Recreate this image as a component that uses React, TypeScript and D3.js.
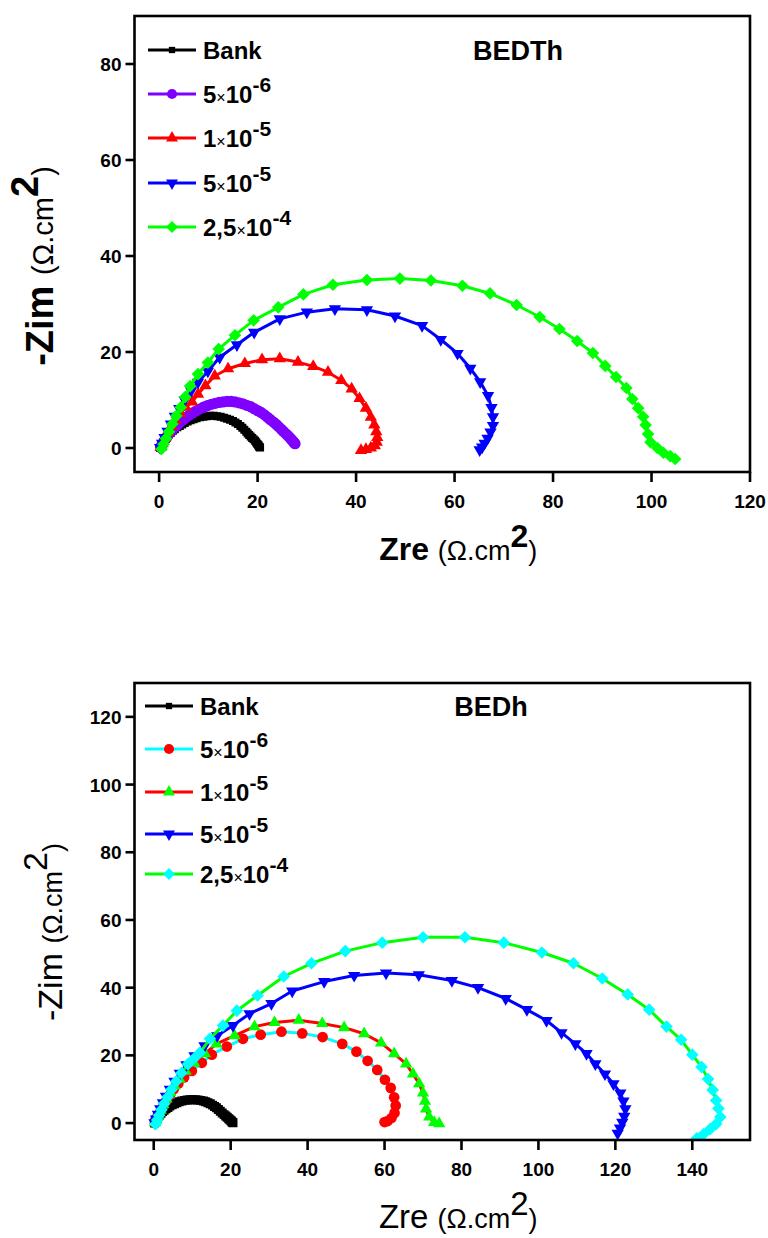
import React from 'react';
import * as d3 from 'd3';

type Pt = [number, number];

// ---- BEDTh (top panel), Zre / -Zim in ohm.cm2 ----
const bankTh: Pt[] = [
  [0.2, 0.0], [0.4, 0.4], [0.6, 0.8], [0.8, 1.2], [1.1, 1.6], [1.4, 2.0], [1.7, 2.4], [2.0, 2.8],
  [2.4, 3.2], [2.8, 3.6], [3.2, 3.9], [3.7, 4.3], [4.2, 4.6], [4.7, 4.9], [5.2, 5.2], [5.8, 5.5],
  [6.4, 5.8], [7.0, 6.0], [7.6, 6.2], [8.3, 6.4], [9.0, 6.5], [9.7, 6.6], [10.4, 6.7], [11.1, 6.7],
  [11.8, 6.6], [12.5, 6.5], [13.2, 6.3], [13.8, 6.1], [14.4, 5.9], [15.0, 5.6], [15.5, 5.3], [16.0, 5.0],
  [16.5, 4.6], [16.9, 4.2], [17.3, 3.8], [17.7, 3.4], [18.0, 3.0], [18.3, 2.7], [18.6, 2.4], [18.9, 2.1],
  [19.2, 1.8], [19.5, 1.5], [19.7, 1.2], [19.9, 0.9], [20.1, 0.7], [20.2, 0.5], [20.3, 0.3], [20.4, 0.2], [20.5, 0.1],
];
const th5e6: Pt[] = [
  [0.3, 0.1], [0.5, 0.5], [0.7, 0.9], [1.0, 1.4], [1.3, 1.9], [1.6, 2.4], [2.0, 2.9], [2.4, 3.4],
  [2.8, 3.9], [3.3, 4.4], [3.8, 4.9], [4.3, 5.4], [4.9, 5.9], [5.5, 6.4], [6.1, 6.8], [6.8, 7.3],
  [7.5, 7.7], [8.2, 8.1], [9.0, 8.5], [9.8, 8.8], [10.6, 9.1], [11.4, 9.3], [12.2, 9.5], [13.0, 9.6],
  [13.8, 9.7], [14.6, 9.7], [15.4, 9.6], [16.2, 9.4], [17.0, 9.2], [17.8, 8.9], [18.6, 8.6], [19.3, 8.2],
  [20.0, 7.8], [20.7, 7.4], [21.4, 6.9], [22.0, 6.4], [22.6, 5.9], [23.2, 5.4], [23.8, 4.9], [24.3, 4.4],
  [24.8, 3.9], [25.3, 3.4], [25.8, 2.9], [26.2, 2.5], [26.6, 2.1], [26.9, 1.7], [27.2, 1.4], [27.4, 1.1], [27.6, 0.9],
];
const th1e5: Pt[] = [
  [0.3, 0.1], [0.7, 0.9], [1.2, 2.0], [1.8, 3.2], [2.5, 4.5], [3.3, 5.8], [4.3, 7.2], [5.4, 8.5],
  [6.7, 9.6], [7.9, 11.2], [9.4, 13.0], [11.3, 15.0], [14.0, 16.5], [17.4, 17.6], [20.9, 18.4], [24.5, 18.6],
  [28.2, 17.9], [31.3, 17.0], [34.3, 15.8], [37.0, 14.1], [39.1, 12.3], [40.7, 10.3], [42.0, 8.3], [43.0, 6.4],
  [43.7, 4.8], [44.1, 3.4], [44.3, 2.2], [44.2, 1.2], [43.8, 0.5], [43.0, 0.0], [42.0, -0.3], [41.0, -0.5],
];
const th5e5: Pt[] = [
  [0.2, 0.1], [0.6, 1.0], [1.1, 2.2], [1.7, 3.5], [2.4, 5.0], [3.2, 6.6], [4.1, 8.2], [5.2, 10.0],
  [6.5, 11.9], [7.9, 13.7], [9.9, 16.0], [12.3, 18.9], [15.8, 21.5], [19.3, 24.1], [24.5, 26.9], [30.0, 28.3],
  [35.7, 29.0], [42.2, 28.8], [47.9, 27.5], [53.4, 25.5], [57.2, 22.6], [60.6, 19.7], [63.2, 16.6], [65.2, 13.8],
  [66.8, 10.9], [67.5, 8.4], [67.8, 6.5], [67.8, 4.7], [67.3, 3.3], [66.7, 2.0], [66.1, 1.0], [65.6, 0.2], [65.1, -0.4],
];
const th25e4: Pt[] = [
  [0.5, -0.2], [0.9, 0.8], [1.4, 2.0], [2.0, 3.4], [2.7, 5.0], [3.5, 6.7], [4.4, 8.5], [5.3, 10.6],
  [6.3, 12.9], [7.9, 15.4], [9.9, 17.8], [12.1, 20.6], [15.4, 23.5], [19.2, 26.6], [24.2, 29.3], [29.3, 32.0],
  [35.3, 34.0], [42.2, 35.0], [48.9, 35.3], [55.2, 34.9], [61.6, 33.8], [67.2, 32.2], [72.6, 29.8], [77.3, 27.3],
  [81.3, 24.8], [84.9, 22.3], [88.1, 19.8], [90.6, 17.1], [92.8, 14.8], [94.9, 12.5], [96.1, 10.2], [97.3, 8.3],
  [98.3, 6.5], [98.8, 4.8], [99.3, 2.9], [99.8, 1.2], [101.2, 0.0], [102.4, -1.0], [103.8, -1.7], [104.8, -2.3],
];

// ---- BEDh (bottom panel) ----
const bankH: Pt[] = [
  [0.2, 0.0], [0.4, 0.4], [0.6, 0.9], [0.9, 1.4], [1.2, 1.9], [1.5, 2.4], [1.9, 2.9], [2.3, 3.4],
  [2.7, 3.8], [3.2, 4.2], [3.7, 4.6], [4.2, 5.0], [4.8, 5.4], [5.4, 5.7], [6.0, 6.0], [6.6, 6.3],
  [7.3, 6.5], [8.0, 6.7], [8.7, 6.8], [9.4, 6.9], [10.1, 6.9], [10.8, 6.9], [11.5, 6.8], [12.2, 6.7],
  [12.9, 6.5], [13.5, 6.3], [14.1, 6.0], [14.7, 5.7], [15.3, 5.3], [15.8, 4.9], [16.3, 4.5], [16.8, 4.0],
  [17.3, 3.5], [17.8, 3.0], [18.3, 2.5], [18.7, 2.1], [19.1, 1.7], [19.5, 1.3], [19.8, 1.0], [20.1, 0.7],
  [20.3, 0.4], [20.5, 0.2], [20.6, 0.1],
];
const h5e6: Pt[] = [
  [0.3, 0.1], [0.7, 1.0], [1.2, 2.2], [1.8, 3.6], [2.5, 5.1], [3.3, 6.7], [4.2, 8.3], [5.2, 10.0],
  [6.4, 11.7], [7.9, 13.5], [9.9, 15.4], [12.5, 17.8], [15.1, 20.2], [19.0, 22.6], [23.2, 24.9], [27.8, 26.1],
  [33.2, 27.0], [38.6, 26.5], [43.9, 25.4], [49.0, 23.4], [52.7, 21.1], [55.6, 18.4], [58.1, 15.7], [60.1, 12.8],
  [61.6, 10.4], [62.5, 7.6], [62.9, 5.2], [62.6, 3.0], [61.8, 1.5], [60.8, 0.6], [60.0, 0.3],
];
const h1e5: Pt[] = [
  [0.3, 0.1], [0.7, 1.0], [1.2, 2.3], [1.8, 3.8], [2.5, 5.4], [3.3, 7.1], [4.3, 9.0], [5.4, 11.0],
  [6.7, 13.0], [8.3, 15.3], [10.5, 17.8], [13.3, 20.5], [16.3, 23.4], [21.0, 25.8], [26.2, 28.5], [31.4, 29.7],
  [37.7, 30.4], [43.8, 29.4], [49.5, 28.2], [54.7, 26.4], [59.1, 23.7], [62.5, 20.5], [65.6, 17.5], [67.4, 14.5],
  [69.0, 11.6], [70.0, 8.9], [70.5, 6.5], [70.8, 4.2], [71.6, 1.8], [72.9, 0.2], [74.2, -0.2],
];
const h5e5: Pt[] = [
  [0.2, 0.1], [0.6, 1.2], [1.1, 2.6], [1.7, 4.2], [2.4, 6.0], [3.2, 7.9], [4.2, 10.0], [5.4, 12.3],
  [6.8, 14.7], [8.5, 17.2], [10.6, 19.9], [13.2, 22.8], [16.5, 25.8], [20.6, 28.8], [24.9, 32.3], [30.6, 35.3],
  [36.0, 39.0], [44.3, 41.8], [52.1, 43.6], [60.4, 44.3], [68.9, 43.8], [77.5, 42.1], [84.3, 40.0], [91.5, 36.8],
  [97.0, 33.5], [102.1, 30.3], [106.0, 26.7], [109.6, 23.4], [112.5, 20.5], [114.8, 17.5], [117.3, 14.5], [119.5, 11.6],
  [121.3, 8.9], [122.1, 6.5], [122.6, 4.2], [122.3, 2.0], [121.8, 0.2], [121.2, -1.5], [120.6, -3.0],
];
const h25e4: Pt[] = [
  [0.5, -0.3], [0.9, 0.9], [1.4, 2.3], [2.0, 3.9], [2.7, 5.7], [3.6, 7.7], [4.6, 9.9], [5.8, 12.3],
  [7.2, 14.8], [8.9, 17.4], [10.4, 19.0], [12.0, 20.8], [14.6, 24.9], [18.0, 28.8], [21.6, 33.2], [27.0, 37.7],
  [33.8, 43.3], [41.0, 47.2], [49.8, 50.8], [59.4, 53.3], [70.0, 54.9], [80.9, 54.9], [91.0, 53.3], [100.9, 50.4],
  [109.1, 47.2], [116.6, 42.7], [123.2, 38.0], [128.8, 33.5], [133.3, 28.5], [137.1, 24.6], [140.0, 20.2], [142.4, 16.6],
  [144.1, 13.0], [145.3, 9.8], [146.2, 6.7], [146.8, 4.3], [147.3, 1.8], [146.2, -0.3], [144.6, -1.8], [142.9, -3.3], [141.2, -4.5],
];

const legendMant = ['5', '1', '5', '2,5'];
const legendExp = ['-6', '-5', '-5', '-4'];

const topXTicks = [0, 20, 40, 60, 80, 100, 120];
const topYTicks = [0, 20, 40, 60, 80];
const botXTicks = [0, 20, 40, 60, 80, 100, 120, 140];
const botYTicks = [0, 20, 40, 60, 80, 100, 120];

const FONT = '"Liberation Sans", Arial, Helvetica, sans-serif';

type Shape = 'square' | 'circle' | 'tri' | 'triDown' | 'diamond';

interface Series {
  data: Pt[];
  line: string;
  fill: string;
  shape: Shape;
  size: number;
}

const symbolPath = (shape: Shape, size: number) => {
  const t = shape === 'circle' ? d3.symbolCircle
    : shape === 'square' || shape === 'diamond' ? d3.symbolSquare
    : d3.symbolTriangle;
  return d3.symbol().type(t).size(size)() as string;
};
const symbolRot = (shape: Shape) => (shape === 'diamond' ? 45 : shape === 'triDown' ? 180 : 0);

const Marker = ({x, y, s, size}: {x: number; y: number; s: Series; size?: number}) => (
  <path d={symbolPath(s.shape, size ?? s.size)}
        transform={`translate(${x},${y}) rotate(${symbolRot(s.shape)})`} fill={s.fill} />
);

interface ChartProps {
  id: string;
  left: number; right: number; top: number; bottom: number;
  xDomain: [number, number]; yDomain: [number, number];
  xTicks: number[]; yTicks: number[];
  series: Series[];
  title: string; titleX: number;
  legendY: number[]; legendX: number;
  bold: boolean;
  xLab: {y: number; big: number; small: number};
  yLab: {x: number; y: number; big: number; small: number};
}

const Chart = (p: ChartProps) => {
  const x = d3.scaleLinear().domain(p.xDomain).range([p.left, p.right]);
  const y = d3.scaleLinear().domain(p.yDomain).range([p.bottom, p.top]);
  const line = d3.line<Pt>().x(d => x(d[0])).y(d => y(d[1]));
  const lw = p.bold ? 'bold' : 'normal';
  const midX = (p.left + p.right) / 2 + 16;
  const legendSizes = [40, 80, 62, 62, 72];

  return (
    <g fontFamily={FONT}>
      <defs>
        <clipPath id={p.id}>
          <rect x={p.left} y={p.top} width={p.right - p.left} height={p.bottom - p.top} />
        </clipPath>
      </defs>
      <g clipPath={`url(#${p.id})`}>
        {p.series.map((s, i) => (
          <g key={i}>
            <path d={line(s.data) as string} fill="none" stroke={s.line} strokeWidth={3} strokeLinejoin="round" />
            {s.data.map((d, j) => <Marker key={j} x={x(d[0])} y={y(d[1])} s={s} />)}
          </g>
        ))}
      </g>
      <rect x={p.left} y={p.top} width={p.right - p.left} height={p.bottom - p.top}
            fill="none" stroke="#000" strokeWidth={2.6} />
      {p.xTicks.map(t => (
        <g key={t}>
          <line x1={x(t)} x2={x(t)} y1={p.bottom} y2={p.bottom + 10} stroke="#000" strokeWidth={2.6} />
          <text x={x(t)} y={p.bottom + 36} textAnchor="middle" fontSize={19} fontWeight="bold">{t}</text>
        </g>
      ))}
      {p.yTicks.map(t => (
        <g key={t}>
          <line x1={p.left - 9} x2={p.left} y1={y(t)} y2={y(t)} stroke="#000" strokeWidth={2.6} />
          <text x={p.left - 13} y={y(t) + 7} textAnchor="end" fontSize={19} fontWeight="bold">{t}</text>
        </g>
      ))}
      {/* legend */}
      {p.series.map((s, i) => (
        <g key={i}>
          <line x1={p.legendX} x2={p.legendX + 48} y1={p.legendY[i]} y2={p.legendY[i]} stroke={s.line} strokeWidth={3} />
          <Marker x={p.legendX + 24} y={p.legendY[i]} s={s} size={legendSizes[i]} />
          <text x={p.legendX + 55} y={p.legendY[i] + 8.5} fontSize={24} fontWeight="bold">
            {i === 0 ? 'Bank' : (
              <>
                <tspan>{legendMant[i - 1]}</tspan>
                <tspan fontSize={16} fontWeight="normal">×</tspan>
                <tspan>10</tspan>
                <tspan fontSize={21} dy={-11}>{legendExp[i - 1]}</tspan>
              </>
            )}
          </text>
        </g>
      ))}
      <text x={p.titleX} y={p.legendY[0] + 10} textAnchor="middle" fontSize={27} fontWeight="bold">{p.title}</text>
      {/* axis titles */}
      <text x={midX} y={p.xLab.y} textAnchor="middle" fontSize={p.xLab.big}>
        <tspan fontWeight={lw}>Zre </tspan>
        <tspan fontSize={p.xLab.small}>(Ω.cm</tspan>
        <tspan fontWeight={lw} dy={-13}>2</tspan>
        <tspan fontSize={p.xLab.small} dy={13}>)</tspan>
      </text>
      <text transform={`translate(${p.yLab.x},${p.yLab.y}) rotate(-90)`} textAnchor="middle" fontSize={p.yLab.big}>
        <tspan fontWeight={lw}>-Zim </tspan>
        <tspan fontSize={p.yLab.small}>(Ω.cm</tspan>
        <tspan fontWeight={lw} dy={-15}>2</tspan>
        <tspan fontSize={p.yLab.small} dy={15}>)</tspan>
      </text>
    </g>
  );
};

const topSeries: Series[] = [
  {data: bankTh, line: '#000000', fill: '#000000', shape: 'square', size: 64},
  {data: th5e6, line: '#8000ff', fill: '#8000ff', shape: 'circle', size: 100},
  {data: th1e5, line: '#ff0000', fill: '#ff0000', shape: 'tri', size: 66},
  {data: th5e5, line: '#0000ff', fill: '#0000ff', shape: 'triDown', size: 66},
  {data: th25e4, line: '#00ff00', fill: '#00ff00', shape: 'diamond', size: 80},
];

const botSeries: Series[] = [
  {data: bankH, line: '#000000', fill: '#000000', shape: 'square', size: 80},
  {data: h5e6, line: '#00ffff', fill: '#ff0000', shape: 'circle', size: 90},
  {data: h1e5, line: '#ff0000', fill: '#00ff00', shape: 'tri', size: 66},
  {data: h5e5, line: '#0000ff', fill: '#0000ff', shape: 'triDown', size: 66},
  {data: h25e4, line: '#00ff00', fill: '#00ffff', shape: 'diamond', size: 80},
];

export default function App() {
  return (
    <svg width={768} height={1238} style={{position: 'absolute', left: 0, top: 0, background: '#fff'}}>
      <rect width={768} height={1238} fill="#fff" />
      <Chart
        id="clipTop"
        left={134.5} right={750} top={16} bottom={472}
        xDomain={[-5, 120]} yDomain={[-5, 90]}
        xTicks={topXTicks} yTicks={topYTicks}
        series={topSeries}
        title="BEDTh" titleX={518}
        legendY={[50, 94, 138, 183, 227]} legendX={148}
        bold={true}
        xLab={{y: 560, big: 32, small: 27}}
        yLab={{x: 53, y: 266, big: 38, small: 29}}
      />
      <Chart
        id="clipBot"
        left={134.5} right={750} top={683} bottom={1140}
        xDomain={[-5, 155]} yDomain={[-5, 130]}
        xTicks={botXTicks} yTicks={botYTicks}
        series={botSeries}
        title="BEDh" titleX={491}
        legendY={[706, 749, 792, 834, 874]} legendX={145}
        bold={false}
        xLab={{y: 1228, big: 33, small: 27}}
        yLab={{x: 62, y: 932, big: 34, small: 27}}
      />
    </svg>
  );
}
